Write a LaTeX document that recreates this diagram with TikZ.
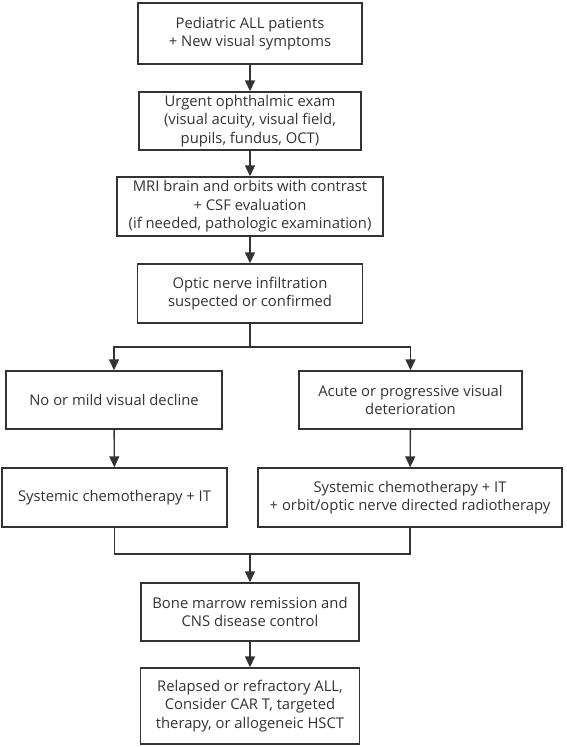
\documentclass[tikz,border=0pt]{standalone}
\usepackage{fontspec}
\setmainfont{Open Sans}
\usepackage{tikz}
\usetikzlibrary{arrows.meta}

\definecolor{ink}{HTML}{333333}

\tikzset{
  box/.style={draw=ink, line width=1.4pt, text=ink, align=center,
    inner sep=0pt, font=\fontsize{14.8}{18.5}\selectfont},
  arr/.style={draw=ink, line width=1.4pt, -{Triangle[length=11pt,width=10pt]}},
  ln/.style={draw=ink, line width=1.4pt}
}

\begin{document}
\begin{tikzpicture}[x=1pt,y=-1pt]
\useasboundingbox (0,0) rectangle (566,747);

% main column
\node[box, minimum width=224, minimum height=61] (pat) at (250,33.5)
  {Pediatric ALL patients\\+ New visual symptoms};
\node[box, minimum width=222, minimum height=58] (exam) at (250,121)
  {Urgent ophthalmic exam\\(visual acuity, visual field,\\pupils, fundus, OCT)};
\node[box, minimum width=266, minimum height=59] (mri) at (250,206.5)
  {MRI brain and orbits with contrast\\+ CSF evaluation\\(if needed, pathologic examination)};
\node[box, minimum width=225, minimum height=59] (infil) at (250,293.5)
  {Optic nerve infiltration\\suspected or confirmed};

% two branches
\node[box, minimum width=216, minimum height=58] (mild) at (114,400)
  {No or mild visual decline};
\node[box, minimum width=223, minimum height=58] (acute) at (410.5,400)
  {Acute or progressive visual\\deterioration};
\node[box, minimum width=225, minimum height=59] (chemo) at (114.5,497.5)
  {Systemic chemotherapy + IT};
\node[box, minimum width=304, minimum height=59] (chemort) at (410,497.5)
  {Systemic chemotherapy + IT\\+ orbit/optic nerve directed radiotherapy};

% outcome
\node[box, minimum width=218, minimum height=58] (remis) at (250,612)
  {Bone marrow remission and\\CNS disease control};
\node[box, minimum width=219, minimum height=76] (relapse) at (250,706)
  {Relapsed or refractory ALL,\\Consider CAR T, targeted\\therapy, or allogeneic HSCT};

\coordinate (split) at (250,347);
\coordinate (join) at (250,554);

\draw[arr] (pat) -- (exam);
\draw[arr] (exam) -- (mri);
\draw[arr] (mri) -- (infil);
\draw[ln] (infil) -- (split);
\draw[arr] (split) -| (mild);
\draw[arr] (split) -| (acute);
\draw[arr] (mild) -- (chemo);
\draw[arr] (acute) -- (chemort);
\draw[ln] (chemo) |- (join);
\draw[ln] (chemort) |- (join);
\draw[arr] (join) -- (remis);
\draw[arr] (remis) -- (relapse);
\end{tikzpicture}
\end{document}
